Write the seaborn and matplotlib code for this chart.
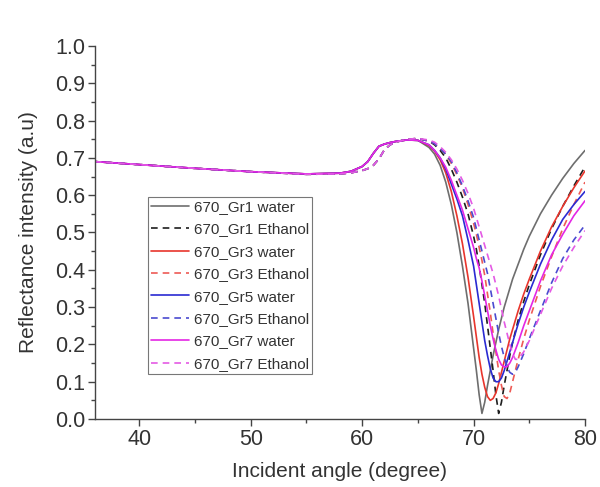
import numpy as np
import pandas as pd
import matplotlib
matplotlib.use("Agg")
import matplotlib.pyplot as plt
from matplotlib.ticker import MultipleLocator, FormatStrFormatter
import seaborn as sns

# Incident angle grid (degrees), shared by all curves
angle = [36, 40, 45, 50, 55, 58, 59, 60, 60.5, 61, 61.5, 62, 62.5, 63, 64, 65,
         66, 66.5, 67, 67.5, 68, 68.5, 69, 69.5,
         70, 70.25, 70.5, 70.75, 71, 71.25, 71.5, 71.75, 72, 72.25, 72.5, 72.75,
         73, 73.25, 73.5, 73.75, 74, 74.5, 75, 76, 77, 78, 79, 80]

# Common part of the curves before the resonance (36 .. 65 deg)
water_head = [0.690, 0.682, 0.672, 0.663, 0.657, 0.659, 0.664, 0.677, 0.690, 0.712,
              0.731, 0.737, 0.741, 0.744, 0.748, 0.747]
ethanol_head = [0.690, 0.682, 0.672, 0.663, 0.656, 0.657, 0.660, 0.666, 0.671, 0.680,
                0.697, 0.722, 0.735, 0.742, 0.750, 0.752]

# Resonance dip (66 .. 80 deg)
gr1_water_dip = [0.728, 0.710, 0.680, 0.635, 0.575, 0.500, 0.410, 0.310,
                 0.190, 0.130, 0.065, 0.015, 0.045, 0.090, 0.130, 0.170, 0.205, 0.240, 0.270, 0.300,
                 0.325, 0.350, 0.375, 0.395, 0.415, 0.455, 0.490, 0.550, 0.600, 0.645, 0.685, 0.720]
gr1_ethanol_dip = [0.745, 0.735, 0.720, 0.700, 0.670, 0.635, 0.595, 0.550,
                   0.490, 0.455, 0.410, 0.360, 0.310, 0.250, 0.190, 0.130, 0.065, 0.015, 0.045, 0.090,
                   0.130, 0.170, 0.205, 0.235, 0.265, 0.315, 0.360, 0.440, 0.510, 0.570, 0.625, 0.676]
gr3_water_dip = [0.733, 0.718, 0.695, 0.660, 0.610, 0.545, 0.470, 0.380,
                 0.275, 0.220, 0.165, 0.120, 0.085, 0.060, 0.050, 0.055, 0.070, 0.095, 0.125, 0.155,
                 0.185, 0.215, 0.240, 0.265, 0.290, 0.335, 0.375, 0.450, 0.515, 0.570, 0.620, 0.665]
gr3_ethanol_dip = [0.745, 0.738, 0.725, 0.710, 0.685, 0.655, 0.620, 0.575,
                   0.525, 0.495, 0.460, 0.425, 0.385, 0.335, 0.285, 0.230, 0.180, 0.130, 0.090, 0.060,
                   0.055, 0.070, 0.100, 0.130, 0.160, 0.215, 0.265, 0.355, 0.435, 0.510, 0.575, 0.635]
gr5_water_dip = [0.735, 0.720, 0.700, 0.670, 0.630, 0.590, 0.545, 0.480,
                 0.410, 0.360, 0.310, 0.260, 0.210, 0.170, 0.135, 0.110, 0.100, 0.100, 0.110, 0.130,
                 0.155, 0.180, 0.205, 0.230, 0.255, 0.300, 0.340, 0.415, 0.480, 0.535, 0.575, 0.610]
gr5_ethanol_dip = [0.745, 0.738, 0.725, 0.710, 0.690, 0.660, 0.625, 0.585,
                   0.540, 0.510, 0.480, 0.450, 0.420, 0.390, 0.350, 0.310, 0.270, 0.230, 0.195, 0.165,
                   0.140, 0.125, 0.120, 0.125, 0.140, 0.175, 0.215, 0.290, 0.365, 0.430, 0.480, 0.520]
gr7_water_dip = [0.735, 0.720, 0.700, 0.675, 0.640, 0.600, 0.560, 0.510,
                 0.460, 0.430, 0.405, 0.370, 0.330, 0.290, 0.250, 0.215, 0.185, 0.160, 0.145, 0.140,
                 0.140, 0.150, 0.165, 0.185, 0.205, 0.250, 0.290, 0.370, 0.440, 0.495, 0.545, 0.585]
gr7_ethanol_dip = [0.748, 0.742, 0.730, 0.715, 0.695, 0.670, 0.640, 0.605,
                   0.565, 0.540, 0.515, 0.490, 0.465, 0.440, 0.415, 0.390, 0.360, 0.330, 0.295, 0.260,
                   0.230, 0.200, 0.175, 0.160, 0.160, 0.180, 0.210, 0.280, 0.350, 0.410, 0.460, 0.505]

labels = ["670_Gr1 water", "670_Gr1 Ethanol", "670_Gr3 water", "670_Gr3 Ethanol",
          "670_Gr5 water", "670_Gr5 Ethanol", "670_Gr7 water", "670_Gr7 Ethanol"]
curves = [water_head + gr1_water_dip, ethanol_head + gr1_ethanol_dip,
          water_head + gr3_water_dip, ethanol_head + gr3_ethanol_dip,
          water_head + gr5_water_dip, ethanol_head + gr5_ethanol_dip,
          water_head + gr7_water_dip, ethanol_head + gr7_ethanol_dip]
colors = ["#6e6e6e", "#1e1e1e", "#e8352c", "#ee5a55",
          "#2a2ad2", "#4a4ad0", "#e426e4", "#e45ae4"]
dashed = [False, True, False, True, False, True, False, True]

df = pd.concat([pd.DataFrame({"angle": angle, "R": vals, "series": lab})
                for lab, vals in zip(labels, curves)], ignore_index=True)

sns.set_style("ticks")
plt.rcParams["font.family"] = ["Liberation Sans", "DejaVu Sans"]

fig = plt.figure(figsize=(6.0, 4.87), dpi=100)
ax = fig.add_axes([0.158, 0.1396, 0.817, 0.766])

for lab, col, dsh in zip(labels, colors, dashed):
    sub = df[df["series"] == lab]
    line_kw = dict(dashes=(4, 3)) if dsh else {}
    sns.lineplot(data=sub, x="angle", y="R", ax=ax, color=col, lw=1.2,
                 label=lab, **line_kw)

ax.set_xlim(36, 80)
ax.set_ylim(0, 1.0)
ax.set_xticks([40, 50, 60, 70, 80])
ax.xaxis.set_minor_locator(MultipleLocator(5))
ax.yaxis.set_major_locator(MultipleLocator(0.1))
ax.yaxis.set_minor_locator(MultipleLocator(0.05))
ax.xaxis.set_major_formatter(FormatStrFormatter("%d"))
ax.yaxis.set_major_formatter(FormatStrFormatter("%.1f"))

txt = "#333333"
for s in ["top", "right"]:
    ax.spines[s].set_visible(False)
for s in ["left", "bottom"]:
    ax.spines[s].set_color("#444444")
    ax.spines[s].set_linewidth(1.0)
ax.tick_params(which="major", direction="out", length=5, width=1.0,
               color="#444444", labelsize=15.5, labelcolor=txt, pad=2)
ax.tick_params(which="minor", direction="out", length=3, width=1.0, color="#444444")

ax.set_xlabel("Incident angle (degree)", fontsize=15, color=txt, labelpad=9)
ax.set_ylabel("Reflectance intensity (a.u)", fontsize=15, color=txt, labelpad=12)

leg = ax.legend(loc="upper left", bbox_to_anchor=(148 / 600, 1 - 197 / 487),
                bbox_transform=fig.transFigure, frameon=True,
                fontsize=11, handlelength=2.5, handletextpad=0.3,
                labelspacing=0.55, borderpad=0.2, borderaxespad=0,
                fancybox=False, labelcolor=txt)
leg.get_frame().set_edgecolor("#555555")
leg.get_frame().set_linewidth(0.8)

fig.savefig("out.png", dpi=100)
